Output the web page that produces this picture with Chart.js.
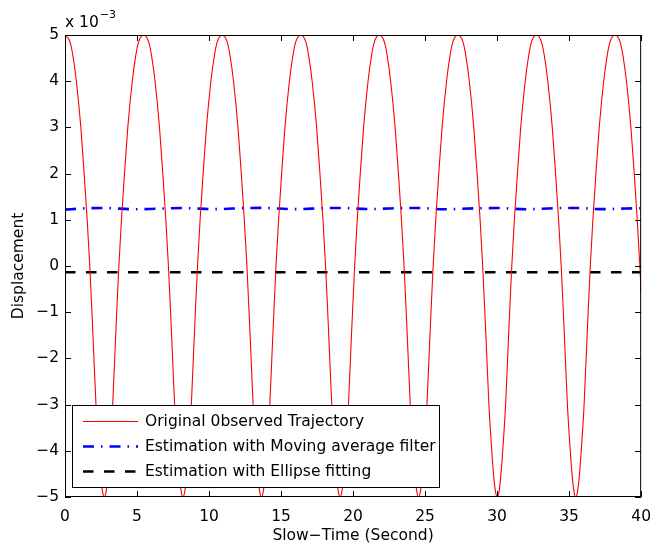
<!DOCTYPE html>
<html><head><meta charset="utf-8">
<script src="https://cdn.jsdelivr.net/npm/chart.js@4.4.0/dist/chart.umd.min.js"></script>
<style>html,body{margin:0;padding:0;background:#fff}</style>
</head><body>
<canvas id="c" width="662" height="547"></canvas>
<script>
// ---- data (displacement in units of 1e-3) ----
const xTicks = [0, 5, 10, 15, 20, 25, 30, 35, 40];
const yTicks = [-5, -4, -3, -2, -1, 0, 1, 2, 3, 4, 5];
const seriesNames = ['Original 0bserved Trajectory', 'Estimation with Moving average filter', 'Estimation with Ellipse fitting'];

const timeRed = [
 0, 0.35, 0.55, 0.79, 1.10, 1.33, 1.54, 1.72, 1.87, 2.01, 2.15, 2.35, 2.47, 2.59, 2.73, 2.87, 2.99, 3.11, 3.31, 3.45, 3.59, 3.74, 3.92, 4.13, 4.36, 4.67, 4.91, 5.11,
 5.46, 5.81, 6.01, 6.25, 6.56, 6.79, 7.00, 7.18, 7.33, 7.47, 7.61, 7.81, 7.93, 8.05, 8.19, 8.33, 8.45, 8.57, 8.77, 8.91, 9.05, 9.20, 9.38, 9.59, 9.82, 10.13, 10.37, 10.57,
 10.91, 11.26, 11.46, 11.70, 12.01, 12.24, 12.45, 12.63, 12.78, 12.92, 13.06, 13.26, 13.38, 13.50, 13.64, 13.78, 13.90, 14.02, 14.22, 14.36, 14.50, 14.65, 14.83, 15.04, 15.27, 15.58, 15.82, 16.02,
 16.37, 16.72, 16.92, 17.16, 17.47, 17.70, 17.91, 18.09, 18.24, 18.38, 18.52, 18.72, 18.84, 18.96, 19.10, 19.24, 19.36, 19.48, 19.68, 19.82, 19.96, 20.11, 20.29, 20.50, 20.73, 21.04, 21.28, 21.48,
 21.82, 22.17, 22.37, 22.61, 22.92, 23.15, 23.36, 23.54, 23.69, 23.83, 23.97, 24.17, 24.29, 24.41, 24.55, 24.69, 24.81, 24.93, 25.13, 25.27, 25.41, 25.56, 25.74, 25.95, 26.18, 26.49, 26.73, 26.93,
 27.28, 27.63, 27.83, 28.07, 28.38, 28.61, 28.82, 29.00, 29.15, 29.29, 29.43, 29.63, 29.75, 29.87, 30.01, 30.15, 30.27, 30.39, 30.59, 30.73, 30.87, 31.02, 31.20, 31.41, 31.64, 31.95, 32.19, 32.39,
 32.73, 33.08, 33.28, 33.52, 33.83, 34.06, 34.27, 34.45, 34.60, 34.74, 34.88, 35.08, 35.20, 35.32, 35.46, 35.60, 35.72, 35.84, 36.04, 36.18, 36.32, 36.47, 36.65, 36.86, 37.09, 37.40, 37.64, 37.84,
 38.19, 38.54, 38.74, 38.98, 39.29, 39.52, 39.73, 39.91, 40.00
];
const dispRed = [
 5, 4.85, 4.55, 4, 3, 2, 1, 0, -1, -2, -3, -4, -4.5, -4.85, -5, -4.85, -4.5, -4, -3, -2, -1, 0, 1, 2, 3, 4, 4.55, 4.85,
 5, 4.85, 4.55, 4, 3, 2, 1, 0, -1, -2, -3, -4, -4.5, -4.85, -5, -4.85, -4.5, -4, -3, -2, -1, 0, 1, 2, 3, 4, 4.55, 4.85,
 5, 4.85, 4.55, 4, 3, 2, 1, 0, -1, -2, -3, -4, -4.5, -4.85, -5, -4.85, -4.5, -4, -3, -2, -1, 0, 1, 2, 3, 4, 4.55, 4.85,
 5, 4.85, 4.55, 4, 3, 2, 1, 0, -1, -2, -3, -4, -4.5, -4.85, -5, -4.85, -4.5, -4, -3, -2, -1, 0, 1, 2, 3, 4, 4.55, 4.85,
 5, 4.85, 4.55, 4, 3, 2, 1, 0, -1, -2, -3, -4, -4.5, -4.85, -5, -4.85, -4.5, -4, -3, -2, -1, 0, 1, 2, 3, 4, 4.55, 4.85,
 5, 4.85, 4.55, 4, 3, 2, 1, 0, -1, -2, -3, -4, -4.5, -4.85, -5, -4.85, -4.5, -4, -3, -2, -1, 0, 1, 2, 3, 4, 4.55, 4.85,
 5, 4.85, 4.55, 4, 3, 2, 1, 0, -1, -2, -3, -4, -4.5, -4.85, -5, -4.85, -4.5, -4, -3, -2, -1, 0, 1, 2, 3, 4, 4.55, 4.85,
 5, 4.85, 4.55, 4, 3, 2, 1, 0, -0.6
];
const timeMA = [0, 1.2, 2.7, 4.8, 6.4, 8.2, 10.4, 12.5, 13.6, 15.9, 18.0, 19.1, 21.2, 23.0, 24.5, 26.3, 28.5, 30.0, 32.0, 34.0, 35.5, 37.3, 39.0, 40.0];
const dispMA = [1.22, 1.245, 1.255, 1.228, 1.24, 1.255, 1.23, 1.255, 1.258, 1.23, 1.252, 1.256, 1.232, 1.25, 1.255, 1.228, 1.248, 1.255, 1.228, 1.252, 1.256, 1.23, 1.245, 1.25];
const timeEF = [0, 40];
const dispEF = [-0.134, -0.134];

const FONT = 'DejaVu Sans';
const FS = 15.5;
Chart.defaults.font.family = FONT;
Chart.defaults.font.size = FS;
Chart.defaults.color = '#000';

const toXY = (xs, ys) => xs.map((x, i) => ({x, y: ys[i]}));
const fmt = v => String(v).replace('-', '\u2212');

const framePlugin = {
  id: 'frame',
  afterDraw(chart) {
    const {ctx, chartArea: a, scales} = chart;
    ctx.save();
    ctx.strokeStyle = '#000';
    ctx.lineWidth = 1;
    ctx.setLineDash([]);
    ctx.strokeRect(a.left + 0.5, a.top + 0.5, a.right - a.left - 1, a.bottom - a.top - 1);
    const L = 6;
    ctx.beginPath();
    xTicks.forEach(v => {
      const px = Math.round(scales.x.getPixelForValue(v)) + 0.5;
      ctx.moveTo(px, a.bottom); ctx.lineTo(px, a.bottom - L);
      ctx.moveTo(px, a.top); ctx.lineTo(px, a.top + L);
    });
    yTicks.forEach(v => {
      const py = Math.round(scales.y.getPixelForValue(v)) + 0.5;
      ctx.moveTo(a.left, py); ctx.lineTo(a.left + L, py);
      ctx.moveTo(a.right, py); ctx.lineTo(a.right - L, py);
    });
    ctx.stroke();
    // exponent
    ctx.fillStyle = '#000';
    ctx.textBaseline = 'alphabetic';
    ctx.textAlign = 'left';
    ctx.font = FS + 'px "' + FONT + '"';
    ctx.fillText('x 10', a.left, 27);
    const w = ctx.measureText('x 10').width;
    ctx.font = '11px "' + FONT + '"';
    ctx.fillText('\u22123', a.left + w + 1, 18);
    // axis titles
    ctx.font = FS + 'px "' + FONT + '"';
    ctx.textAlign = 'center';
    ctx.textBaseline = 'middle';
    ctx.fillText('Slow\u2212Time (Second)', (a.left + a.right) / 2, 536);
    ctx.save();
    ctx.translate(19, (a.top + a.bottom) / 2);
    ctx.rotate(-Math.PI / 2);
    ctx.fillText('Displacement', 0, 0);
    ctx.restore();
    // legend
    const bx = 72.5, by = 405.5, bw = 367, bh = 82;
    ctx.fillStyle = '#fff';
    ctx.fillRect(bx, by, bw, bh);
    ctx.strokeStyle = '#000';
    ctx.lineWidth = 1;
    ctx.strokeRect(bx, by, bw, bh);
    chart.data.datasets.forEach((ds, i) => {
      const y = 421.5 + 25 * i;
      ctx.beginPath();
      ctx.setLineDash(ds.borderDash || []);
      ctx.strokeStyle = ds.borderColor;
      ctx.lineWidth = ds.borderWidth;
      ctx.moveTo(83, y); ctx.lineTo(138, y);
      ctx.stroke();
      ctx.setLineDash([]);
      ctx.fillStyle = '#000';
      ctx.textAlign = 'left';
      ctx.textBaseline = 'middle';
      ctx.fillText(ds.label, 145, y);
    });
    ctx.restore();
  }
};

new Chart(document.getElementById('c'), {
  type: 'line',
  data: {
    datasets: [
      {label: seriesNames[0], data: toXY(timeRed, dispRed), borderColor: '#ff0000', borderWidth: 1.1, pointRadius: 0, cubicInterpolationMode: 'monotone', tension: 0.4},
      {label: seriesNames[1], data: toXY(timeMA, dispMA), borderColor: '#0000ff', borderWidth: 2.6, borderDash: [11, 7, 1.5, 7], pointRadius: 0, cubicInterpolationMode: 'monotone', tension: 0.4},
      {label: seriesNames[2], data: toXY(timeEF, dispEF), borderColor: '#000000', borderWidth: 2.6, borderDash: [10.5, 10.5], pointRadius: 0}
    ]
  },
  options: {
    responsive: false,
    animation: false,
    events: [],
    layout: {padding: {top: 35, right: 10, left: 0, bottom: 0}},
    plugins: {legend: {display: false}, tooltip: {enabled: false}},
    scales: {
      x: {
        type: 'linear', min: 0, max: 40,
        afterBuildTicks: s => { s.ticks = xTicks.map(v => ({value: v})); },
        afterFit: s => { s.height = 50; },
        grid: {display: false, drawTicks: false},
        border: {display: false},
        ticks: {padding: 11, maxRotation: 0, autoSkip: false, callback: v => fmt(v)}
      },
      y: {
        type: 'linear', min: -5, max: 5,
        afterBuildTicks: s => { s.ticks = yTicks.map(v => ({value: v})); },
        afterFit: s => { s.width = 65; },
        grid: {display: false, drawTicks: false},
        border: {display: false},
        ticks: {padding: 6, autoSkip: false, callback: v => fmt(v)}
      }
    }
  },
  plugins: [framePlugin]
});
</script>
</body></html>
